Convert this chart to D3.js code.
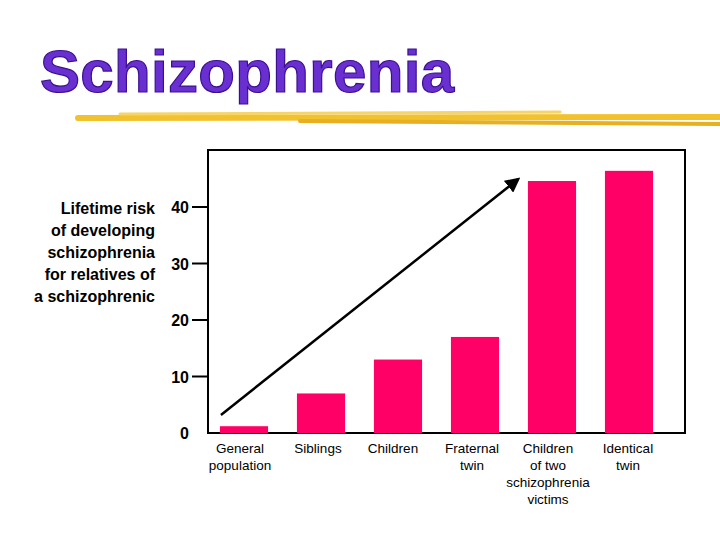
<!DOCTYPE html>
<html><head><meta charset="utf-8">
<script src="https://cdn.jsdelivr.net/npm/d3@7"></script>
<style>body{margin:0;background:#fff}</style>
</head><body>
<script>
var categories = [["General","population"],["Siblings"],["Children"],["Fraternal","twin"],["Children","of two","schizophrenia","victims"],["Identical","twin"]];
var risk = [1.2, 7, 13, 17, 44.6, 46.4];
var yTicks = [0, 10, 20, 30, 40];
var yLabel = ["Lifetime risk","of developing","schizophrenia","for relatives of","a schizophrenic"];

var svg = d3.select("body").append("svg").attr("width",720).attr("height",540);
var font = "Liberation Sans, Arial, sans-serif";

svg.append("text").attr("x",40).attr("y",92).text("Schizophrenia")
  .attr("font-family",font).attr("font-weight","bold").attr("font-size",60).attr("fill","#6a2fd0")
  .attr("stroke","#3a1090").attr("stroke-width",1.2).attr("textLength",414);
// brush underline
[[78,118,720,117,6,"#f2c12e"],[120,114,560,112,3,"#f5d56a"],[300,121,720,124,4,"#e8b020"]].forEach(function(s){
  svg.append("line").attr("x1",s[0]).attr("y1",s[1]).attr("x2",s[2]).attr("y2",s[3])
    .attr("stroke",s[5]).attr("stroke-width",s[4]).attr("stroke-linecap","round");
});

var x = d3.scaleBand().domain(d3.range(categories.length)).range([205.5,667.5]).paddingInner(0.375).paddingOuter(0.1875);
var y = d3.scaleLinear().domain([0,40]).range([433,207]);

svg.append("rect").attr("x",208).attr("y",150).attr("width",477).attr("height",283)
  .attr("fill","none").attr("stroke","#000").attr("stroke-width",2);

yTicks.forEach(function(t){
  if(t>0) svg.append("line").attr("x1",192).attr("x2",208).attr("y1",y(t)).attr("y2",y(t)).attr("stroke","#000").attr("stroke-width",2);
  svg.append("text").attr("x",189).attr("y",y(t)+6).attr("text-anchor","end").text(t)
    .attr("font-family",font).attr("font-weight","bold").attr("font-size",16);
});

yLabel.forEach(function(l,i){
  svg.append("text").attr("x",155).attr("y",214+i*22).attr("text-anchor","end").text(l)
    .attr("font-family",font).attr("font-weight","bold").attr("font-size",16);
});

svg.selectAll("rect.bar").data(risk).enter().append("rect").attr("class","bar")
  .attr("x",function(d,i){return x(i);}).attr("width",x.bandwidth())
  .attr("y",function(d){return y(d);}).attr("height",function(d){return y(0)-y(d);})
  .attr("fill","#ff0066");

var labelX = [240, 318, 393, 472, 548, 628];
categories.forEach(function(c,i){
  c.forEach(function(l,j){
    svg.append("text").attr("x",labelX[i]).attr("y",453+j*17).attr("text-anchor","middle").text(l)
      .attr("font-family",font).attr("font-size",13.5);
  });
});

svg.append("defs").append("marker").attr("id","ah").attr("viewBox","0 0 10 10").attr("refX",8).attr("refY",5)
  .attr("markerWidth",6).attr("markerHeight",6).attr("orient","auto")
  .append("path").attr("d","M0,0L10,5L0,10z").attr("fill","#000");
svg.append("line").attr("x1",x(0)+1).attr("y1",y(3.2)).attr("x2",x(4)-10).attr("y2",y(44.9))
  .attr("stroke","#000").attr("stroke-width",2.5).attr("marker-end","url(#ah)");
</script>
</body></html>
